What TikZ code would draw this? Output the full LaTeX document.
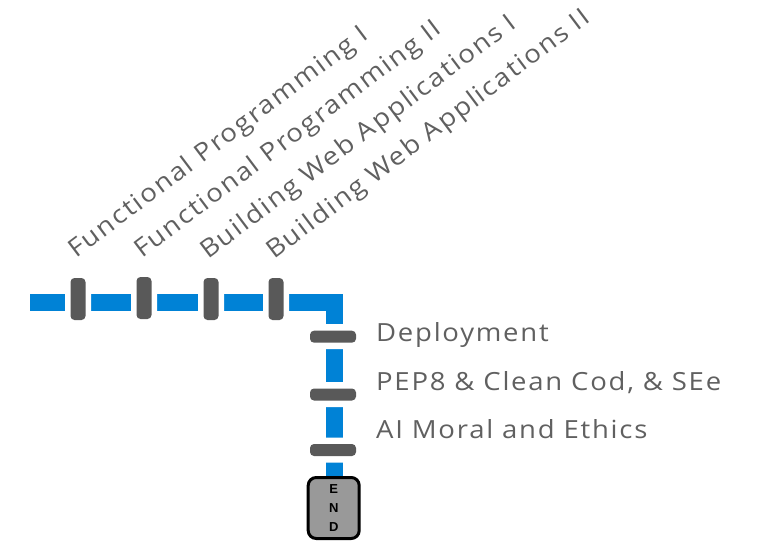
\documentclass[tikz,border=0pt]{standalone}
\usepackage{fontspec}
\setmainfont{Open Sans}[FakeStretch=1.1, LetterSpace=7]
\newfontfamily\endfont{Liberation Sans}
\usetikzlibrary{backgrounds}

\definecolor{lineblue}{HTML}{0082D6}
\definecolor{bargray}{HTML}{595959}
\definecolor{labelgray}{HTML}{606060}
\definecolor{endgray}{HTML}{999999}

\tikzset{
  metro/.style={draw=lineblue, line width=17pt, line join=miter},
  hbar/.style={rectangle, rounded corners=4pt, fill=bargray, inner sep=0pt,
    minimum width=15pt, minimum height=42pt,
    preaction={draw=white, line width=11pt}},
  vbar/.style={rectangle, rounded corners=4pt, fill=bargray, inner sep=0pt,
    minimum width=46pt, minimum height=12pt,
    preaction={draw=white, line width=13pt}},
  toplabel/.style={anchor=base west, rotate=37, inner sep=0pt,
    text=labelgray, font=\fontsize{25}{30}\selectfont},
  sidelabel/.style={anchor=base west, inner sep=0pt,
    text=labelgray, font=\fontsize{25}{30}\selectfont},
  endbox/.style={rectangle, rounded corners=8pt, draw=black, line width=3pt,
    fill=endgray, minimum width=51pt, minimum height=61pt, inner sep=0pt,
    align=center, font=\endfont\bfseries\fontsize{13}{19}\selectfont}
}

\begin{document}
\begin{tikzpicture}[x=1pt, y=-1pt]
  \useasboundingbox (0,0) rectangle (761,541);

  % route coordinates
  \coordinate (start) at (30,302);
  \coordinate (turn) at (334,302);

  % stations on the horizontal branch
  \node[hbar] (s1) at (78,299) {};
  \node[hbar] (s2) at (144,298) {};
  \node[hbar] (s3) at (211,299) {};
  \node[hbar] (s4) at (276,299) {};

  % stations on the vertical branch
  \node[vbar] (s5) at (333,336.7) {};
  \node[vbar] (s6) at (333,394.5) {};
  \node[vbar] (s7) at (333,450) {};

  % terminus
  \node[endbox] (end) at (333.7,508) {E\\N\\D};

  % the line itself, behind the stations
  \begin{scope}[on background layer]
    \draw[metro] (start) -- (turn) -- (turn |- end.north);
  \end{scope}

  % station names
  \node[toplabel] (l1) at (76,259) {Functional Programming I};
  \node[toplabel] (l2) at (142,259) {Functional Programming II};
  \node[toplabel] (l3) at (208,260) {Building Web Applications I};
  \node[toplabel] (l4) at (274,260) {Building Web Applications II};

  \node[sidelabel] (l5) at (376,341.7) {Deployment};
  \node[sidelabel] (l6) at (376,390) {PEP8 \& Clean Cod, \& SEe};
  \node[sidelabel] (l7) at (376,438.3) {AI Moral and Ethics};
\end{tikzpicture}
\end{document}
